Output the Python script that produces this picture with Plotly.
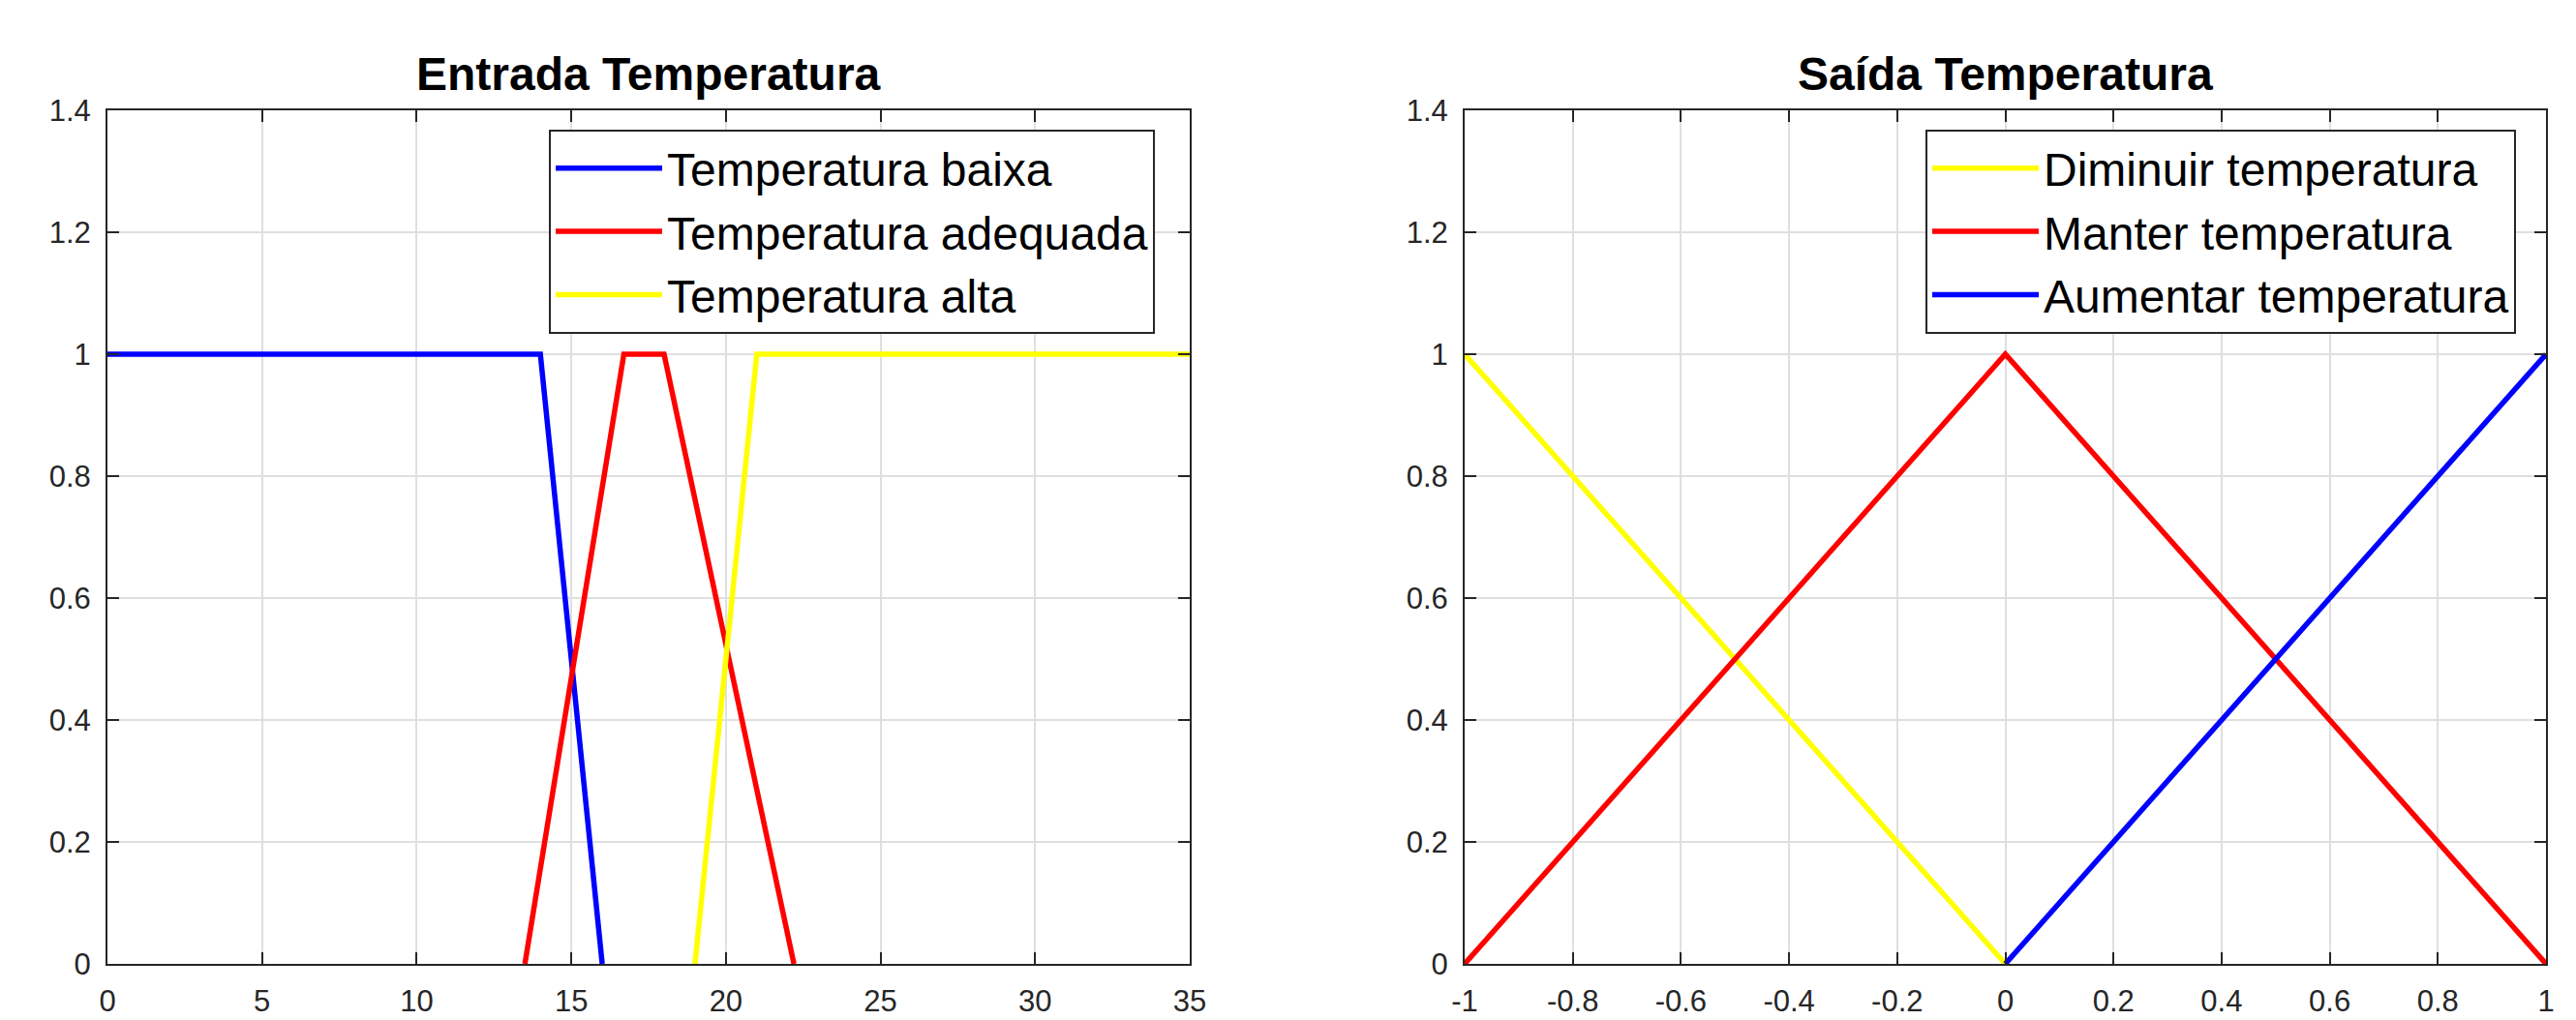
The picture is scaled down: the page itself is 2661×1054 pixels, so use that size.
import plotly.graph_objects as go

# ---------------- data ----------------
x_baixa = [0, 14, 16]
y_baixa = [1, 1, 0]
x_adequada = [13.5, 16.7, 18, 22.2]
y_adequada = [0, 1, 1, 0]
x_alta = [19, 21, 35]
y_alta = [0, 1, 1]

x_diminuir = [-1, 0]
y_diminuir = [1, 0]
x_manter = [-1, 0, 1]
y_manter = [0, 1, 0]
x_aumentar = [0, 1]
y_aumentar = [0, 1]

left_xticks = [0, 5, 10, 15, 20, 25, 30, 35]
left_xticklabels = ["0", "5", "10", "15", "20", "25", "30", "35"]
right_xticks = [-1, -0.8, -0.6, -0.4, -0.2, 0, 0.2, 0.4, 0.6, 0.8, 1]
right_xticklabels = ["-1", "-0.8", "-0.6", "-0.4", "-0.2", "0", "0.2", "0.4", "0.6", "0.8", "1"]
yticks = [0, 0.2, 0.4, 0.6, 0.8, 1, 1.2, 1.4]
yticklabels = ["0", "0.2", "0.4", "0.6", "0.8", "1", "1.2", "1.4"]

title_left = "Entrada Temperatura"
title_right = "Saída Temperatura"

# ---------------- layout constants ----------------
W, H = 2661, 1054
FONT = "Liberation Sans, Arial, Helvetica, sans-serif"
AX = "#262626"
GRID = "#dfdfdf"
LW = 5.5

def px_x(p):
    return p / W

def px_y(p):
    return 1 - p / H

fig = go.Figure()

fig.add_trace(go.Scatter(x=x_baixa, y=y_baixa, mode="lines", name="Temperatura baixa",
                         line=dict(color="#0000ff", width=LW), xaxis="x", yaxis="y", legend="legend"))
fig.add_trace(go.Scatter(x=x_adequada, y=y_adequada, mode="lines", name="Temperatura adequada",
                         line=dict(color="#ff0000", width=LW), xaxis="x", yaxis="y", legend="legend"))
fig.add_trace(go.Scatter(x=x_alta, y=y_alta, mode="lines", name="Temperatura alta",
                         line=dict(color="#ffff00", width=LW), xaxis="x", yaxis="y", legend="legend"))

fig.add_trace(go.Scatter(x=x_diminuir, y=y_diminuir, mode="lines", name="Diminuir temperatura",
                         line=dict(color="#ffff00", width=LW), xaxis="x2", yaxis="y2", legend="legend2"))
fig.add_trace(go.Scatter(x=x_manter, y=y_manter, mode="lines", name="Manter temperatura",
                         line=dict(color="#ff0000", width=LW), xaxis="x2", yaxis="y2", legend="legend2"))
fig.add_trace(go.Scatter(x=x_aumentar, y=y_aumentar, mode="lines", name="Aumentar temperatura",
                         line=dict(color="#0000ff", width=LW), xaxis="x2", yaxis="y2", legend="legend2"))

axis_common = dict(
    showline=True, linecolor=AX, linewidth=2, mirror="ticks",
    ticks="inside", ticklen=12, tickwidth=2, tickcolor=AX,
    showgrid=True, gridcolor=GRID, gridwidth=1.5,
    zeroline=False, automargin=False,
    tickfont=dict(family=FONT, size=31, color=AX),
    tickmode="array",
)

ydom = [px_y(996), px_y(114)]

legend_common = dict(
    xanchor="left", yanchor="top",
    bgcolor="white", bordercolor=AX, borderwidth=2,
    font=dict(family=FONT, size=48, color="#000000"), itemwidth=110,
    tracegroupgap=0,
)

fig.update_layout(
    width=W, height=H,
    margin=dict(l=0, r=0, t=0, b=0),
    paper_bgcolor="white", plot_bgcolor="white",
    font=dict(family=FONT, color="#000000"),
    xaxis=dict(axis_common, domain=[px_x(111), px_x(1229)], range=[0, 35],
               tickvals=left_xticks, ticktext=left_xticklabels, anchor="y", ticklabelstandoff=10),
    yaxis=dict(axis_common, domain=ydom, range=[0, 1.4],
               tickvals=yticks, ticktext=yticklabels, anchor="x", ticklabelstandoff=9),
    xaxis2=dict(axis_common, domain=[px_x(1513), px_x(2630)], range=[-1, 1],
                tickvals=right_xticks, ticktext=right_xticklabels, anchor="y2", ticklabelstandoff=10),
    yaxis2=dict(axis_common, domain=ydom, range=[0, 1.4],
                tickvals=yticks, ticktext=yticklabels, anchor="x2", ticklabelstandoff=9),
    legend=dict(legend_common, x=px_x(567), y=px_y(134)),
    legend2=dict(legend_common, x=px_x(1989), y=px_y(134)),
    showlegend=True,
    annotations=[
        dict(text="<b>%s</b>" % title_left, x=(px_x(111) + px_x(1229)) / 2, y=px_y(76),
             xref="paper", yref="paper", xanchor="center", yanchor="middle", showarrow=False,
             font=dict(family=FONT, size=48, color="#000000")),
        dict(text="<b>%s</b>" % title_right, x=(px_x(1513) + px_x(2630)) / 2, y=px_y(76),
             xref="paper", yref="paper", xanchor="center", yanchor="middle", showarrow=False,
             font=dict(family=FONT, size=48, color="#000000")),
    ],
)

fig.write_html("out.html",
               config={"displayModeBar": False},
               post_script="document.body.style.margin='0';document.body.style.overflow='hidden';")
